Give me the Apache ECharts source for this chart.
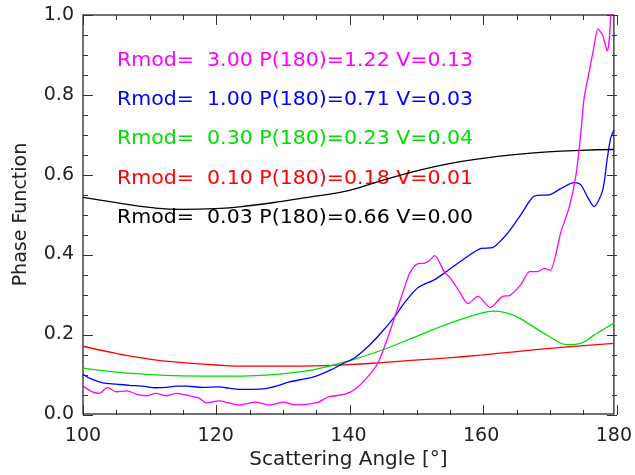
<!DOCTYPE html>
<html>
<head>
<meta charset="utf-8">
<script src="https://cdn.jsdelivr.net/npm/echarts@6/dist/echarts.min.js"></script>
<style>
  html, body { margin: 0; padding: 0; background: #fff; }
  #chart { width: 635px; height: 475px; }
</style>
</head>
<body>
<div id="chart"></div>
<script>
// smooth curves, sampled on a coarse angle grid
var angSmooth = [100, 105, 110, 115, 120, 125, 130, 135, 140, 145, 150, 155, 160, 165, 170, 175, 180]
var blackVal = [0.543, 0.530, 0.518, 0.513, 0.515, 0.522, 0.533, 0.546, 0.560, 0.585, 0.608, 0.627, 0.640, 0.650, 0.657, 0.661, 0.663]
var redVal = [0.170, 0.152, 0.138, 0.129, 0.123, 0.120, 0.120, 0.121, 0.124, 0.129, 0.135, 0.141, 0.148, 0.156, 0.164, 0.171, 0.177]

var greenAng = [100, 105, 110, 115, 120, 125, 130, 135, 140, 145, 150, 155, 160, 162, 165, 167, 170, 173, 175, 177, 178, 180]
var greenVal = [0.115, 0.105, 0.099, 0.096, 0.095, 0.096, 0.101, 0.112, 0.133, 0.160, 0.193, 0.226, 0.253, 0.258, 0.247, 0.228, 0.197, 0.174, 0.177, 0.198, 0.208, 0.228]

var blueAng = [100, 101, 103, 105, 107, 109, 111, 112.6, 114, 115.6, 118, 120.5, 122, 123.5, 125.5, 127.6, 129.5, 131, 133, 134.5, 136, 137.5, 139, 141, 143, 145, 147, 148.5, 150.5, 153, 155, 157.5, 160, 161.7, 163, 164.4, 166, 168, 170.4, 172, 174, 175, 176, 177, 178.3, 179, 179.5, 180]
var blueVal = [0.100, 0.090, 0.078, 0.075, 0.072, 0.070, 0.066, 0.067, 0.070, 0.070, 0.067, 0.068, 0.065, 0.062, 0.062, 0.064, 0.072, 0.080, 0.087, 0.092, 0.101, 0.112, 0.125, 0.142, 0.170, 0.205, 0.245, 0.280, 0.317, 0.337, 0.360, 0.390, 0.415, 0.417, 0.435, 0.462, 0.500, 0.546, 0.550, 0.565, 0.580, 0.575, 0.545, 0.520, 0.560, 0.640, 0.690, 0.712]

var magAng = [100, 101.5, 102.5, 103.7, 105, 106.7, 108, 109.5, 111, 112.6, 114, 116.3, 117.5, 118.6, 120.5, 122, 123.5, 126, 128, 130.3, 132, 134, 135.5, 137, 139.5, 141, 143, 144.5, 146, 147.5, 148.5, 149.3, 150.5, 151.5, 152.2, 153, 154.5, 155.4, 156.8, 158, 159.5, 161.4, 163.2, 164.3, 166, 167.3, 168.5, 169.5, 170.4, 172, 173.3, 174.3, 175, 175.5, 176.3, 177, 177.6, 178.3, 179, 179.4, 180]
var magVal = [0.070, 0.055, 0.052, 0.067, 0.056, 0.058, 0.050, 0.046, 0.052, 0.046, 0.052, 0.045, 0.040, 0.028, 0.033, 0.028, 0.023, 0.030, 0.023, 0.030, 0.023, 0.025, 0.030, 0.043, 0.050, 0.062, 0.095, 0.130, 0.195, 0.270, 0.320, 0.355, 0.377, 0.378, 0.385, 0.397, 0.355, 0.340, 0.305, 0.277, 0.295, 0.267, 0.295, 0.297, 0.325, 0.357, 0.357, 0.365, 0.360, 0.455, 0.520, 0.600, 0.700, 0.790, 0.860, 0.920, 0.965, 0.950, 0.910, 0.960, 1.220]

// annotation lines (top to bottom)
var rmod = [3.00, 1.00, 0.30, 0.10, 0.03]
var p180 = [1.22, 0.71, 0.23, 0.18, 0.66]
var vval = [0.13, 0.03, 0.04, 0.01, 0.00]
var colors = ['#ff00ff', '#0000ff', '#00dd00', '#ff0000', '#000000']

var xRange = [100, 180]
var yRange = [0, 1.0]

function pairs(xs, ys) {
  return xs.map(function (x, i) { return [x, ys[i]] })
}

var font = 'DejaVu Sans'
var textColor = '#222'
var tickColor = '#333'

// plot box
var P = { left: 83, right: 18, top: 15, bottom: 60 }

var texts = rmod.map(function (r, i) {
  return {
    type: 'text',
    x: 117,
    y: 61 + i * 39.2,
    scaleX: 1.08,
    style: {
      text: 'Rmod=  ' + r.toFixed(2) + ' P(180)=' + p180[i].toFixed(2) + ' V=' + vval[i].toFixed(2),
      fill: colors[i],
      font: '19px "' + font + '"',
      verticalAlign: 'middle'
    }
  }
})

var grids = [{ left: P.left, right: P.right, top: P.top, bottom: P.bottom, show: true, borderColor: '#444', borderWidth: 1.5 }]
var xAxes = [{
  type: 'value', gridIndex: 0, min: xRange[0], max: xRange[1], interval: 20,
  name: 'Scattering Angle [°]', nameLocation: 'middle', nameGap: 35,
  nameTextStyle: { fontFamily: font, fontSize: 20, color: textColor },
  axisLine: { show: false }, axisTick: { show: false },
  axisLabel: { fontFamily: font, fontSize: 19, color: textColor, margin: 12 },
  splitLine: { show: false }
}]
var yAxes = [{
  type: 'value', gridIndex: 0, min: yRange[0], max: yRange[1], interval: 0.2,
  name: 'Phase Function', nameLocation: 'middle', nameGap: 52,
  nameTextStyle: { fontFamily: font, fontSize: 19, color: textColor },
  axisLine: { show: false }, axisTick: { show: false },
  axisLabel: { fontFamily: font, fontSize: 19, color: textColor, margin: 9,
    formatter: function (v) { return v.toFixed(1) } },
  splitLine: { show: false }
}]

// tick marks: thin strips along the inside of each frame edge, whose
// split lines (major) or minor split lines are the ticks
function tickStrip(box, vertical, minor) {
  var g = grids.length
  grids.push(box)
  var lineOn = { show: true, lineStyle: { color: tickColor, width: 1 } }
  var off = { show: false }
  var scaleAx = {
    type: 'value', gridIndex: g, interval: vertical ? 0.2 : 20,
    min: vertical ? yRange[0] : xRange[0], max: vertical ? yRange[1] : xRange[1],
    axisLine: off, axisTick: off, axisLabel: off,
    minorTick: { show: false, splitNumber: 4 },
    splitLine: minor ? off : lineOn,
    minorSplitLine: minor ? lineOn : off
  }
  var dummy = { type: 'value', gridIndex: g, show: false, min: 0, max: 1 }
  if (vertical) { yAxes.push(scaleAx); xAxes.push(dummy) } else { xAxes.push(scaleAx); yAxes.push(dummy) }
}
var plotH = 475 - P.top - P.bottom
var plotRightX = 635 - P.right
tickStrip({ left: P.left, right: P.right, top: P.top + plotH - 10, height: 10 }, false, false)
tickStrip({ left: P.left, right: P.right, top: P.top + plotH - 5, height: 5 }, false, true)
tickStrip({ left: P.left, right: P.right, top: P.top, height: 10 }, false, false)
tickStrip({ left: P.left, right: P.right, top: P.top, height: 5 }, false, true)
tickStrip({ left: P.left, width: 10, top: P.top, height: plotH }, true, false)
tickStrip({ left: P.left, width: 5, top: P.top, height: plotH }, true, true)
tickStrip({ left: plotRightX - 10, width: 10, top: P.top, height: plotH }, true, false)
tickStrip({ left: plotRightX - 5, width: 5, top: P.top, height: plotH }, true, true)

function lineSeries(name, data, color, smooth) {
  return {
    name: name,
    type: 'line',
    xAxisIndex: 0,
    yAxisIndex: 0,
    data: data,
    symbol: 'none',
    smooth: smooth,
    lineStyle: { color: color, width: 1.3 },
    itemStyle: { color: color }
  }
}

var chart = echarts.init(document.getElementById('chart'))
chart.setOption({
  animation: false,
  grid: grids,
  xAxis: xAxes,
  yAxis: yAxes,
  graphic: texts,
  series: [
    lineSeries('black', pairs(angSmooth, blackVal), colors[4], 0.5),
    lineSeries('red', pairs(angSmooth, redVal), colors[3], 0.5),
    lineSeries('green', pairs(greenAng, greenVal), colors[2], 0.4),
    lineSeries('blue', pairs(blueAng, blueVal), colors[1], 0.25),
    lineSeries('magenta', pairs(magAng, magVal), colors[0], 0.25)
  ]
})
</script>
</body>
</html>
